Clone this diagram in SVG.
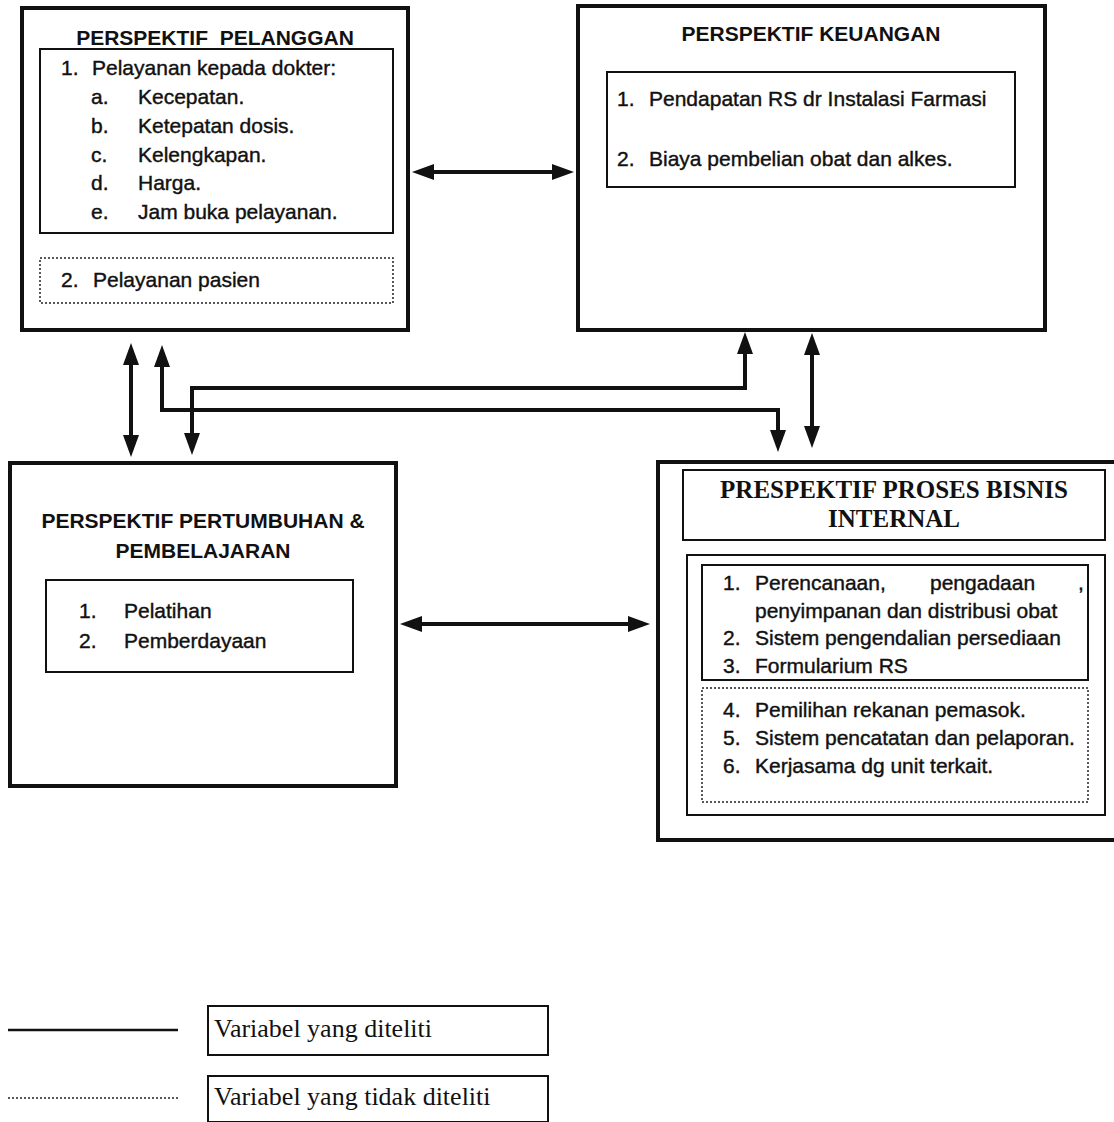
<svg xmlns="http://www.w3.org/2000/svg" width="1114" height="1122" viewBox="0 0 1114 1122">
<style>
.bg{fill:#ffffff}
.outer{fill:none;stroke:#111;stroke-width:4}
.inner{fill:none;stroke:#111;stroke-width:2}
.dot{fill:none;stroke:#222;stroke-width:1.5;stroke-dasharray:2 2}
.t{font-family:"Liberation Sans",Arial,sans-serif;font-size:21px;fill:#111;stroke:#111;stroke-width:0.4}
.h{font-family:"Liberation Sans",Arial,sans-serif;font-size:21px;font-weight:bold;fill:#111;white-space:pre}
.s{font-family:"Liberation Serif","Times New Roman",serif;fill:#111}
.conn{fill:none;stroke:#111;stroke-width:4}
</style>
<defs>
<marker id="ah" markerUnits="userSpaceOnUse" markerWidth="22" markerHeight="16" viewBox="0 0 22 16" refX="15" refY="8" orient="auto-start-reverse">
<path d="M0,0 L22,8 L0,16 z" fill="#111"/>
</marker>
</defs>
<rect class="bg" x="0" y="0" width="1114" height="1122"/>

<g id="pelanggan">
<rect class="outer" x="22" y="8" width="386" height="322"/>
<text class="h" x="215" y="45" text-anchor="middle" xml:space="preserve">PERSPEKTIF  PELANGGAN</text>
<rect class="inner" x="40" y="49" width="353" height="184"/>
<text class="t" x="61" y="75">1.</text>
<text class="t" x="92" y="75">Pelayanan kepada dokter:</text>
<text class="t" x="91" y="104">a.</text><text class="t" x="138" y="104">Kecepatan.</text>
<text class="t" x="91" y="133">b.</text><text class="t" x="138" y="133">Ketepatan dosis.</text>
<text class="t" x="91" y="162">c.</text><text class="t" x="138" y="162">Kelengkapan.</text>
<text class="t" x="91" y="190">d.</text><text class="t" x="138" y="190">Harga.</text>
<text class="t" x="91" y="219">e.</text><text class="t" x="138" y="219">Jam buka pelayanan.</text>
<rect class="dot" x="40" y="258" width="353" height="45"/>
<text class="t" x="61" y="287">2.</text>
<text class="t" x="93" y="287">Pelayanan pasien</text>
</g>

<g id="keuangan">
<rect class="outer" x="578" y="6" width="467" height="324"/>
<text class="h" x="811" y="41" text-anchor="middle">PERSPEKTIF KEUANGAN</text>
<rect class="inner" x="607" y="72" width="408" height="115"/>
<text class="t" x="617" y="106">1.</text>
<text class="t" x="649" y="106">Pendapatan RS dr Instalasi Farmasi</text>
<text class="t" x="617" y="166">2.</text>
<text class="t" x="649" y="166">Biaya pembelian obat dan alkes.</text>
</g>

<g id="pertumbuhan">
<rect class="outer" x="10" y="463" width="386" height="323"/>
<text class="h" x="203" y="528" text-anchor="middle">PERSPEKTIF PERTUMBUHAN &amp;</text>
<text class="h" x="203" y="558" text-anchor="middle">PEMBELAJARAN</text>
<rect class="inner" x="46" y="580" width="307" height="92"/>
<text class="t" x="79" y="618">1.</text><text class="t" x="124" y="618">Pelatihan</text>
<text class="t" x="79" y="648">2.</text><text class="t" x="124" y="648">Pemberdayaan</text>
</g>

<g id="proses-bisnis">
<rect class="outer" x="658" y="462" width="470" height="378"/>
<rect class="inner" x="683" y="470" width="422" height="70"/>
<text class="s" x="894" y="498" font-size="25" font-weight="bold" text-anchor="middle">PRESPEKTIF PROSES BISNIS</text>
<text class="s" x="894" y="527" font-size="25" font-weight="bold" text-anchor="middle">INTERNAL</text>
<rect class="inner" x="687" y="555" width="418" height="260"/>
<rect class="inner" x="702" y="565" width="386" height="115"/>
<text class="t" x="723" y="590">1.</text>
<text class="t" y="590"><tspan x="755">Perencanaan,</tspan><tspan x="930">pengadaan</tspan><tspan x="1078">,</tspan></text>
<text class="t" x="755" y="618">penyimpanan dan distribusi obat</text>
<text class="t" x="723" y="645">2.</text><text class="t" x="755" y="645">Sistem pengendalian persediaan</text>
<text class="t" x="723" y="673">3.</text><text class="t" x="755" y="673">Formularium RS</text>
<rect class="dot" x="702" y="688" width="386" height="114"/>
<text class="t" x="723" y="717">4.</text><text class="t" x="755" y="717">Pemilihan rekanan pemasok.</text>
<text class="t" x="723" y="745">5.</text><text class="t" x="755" y="745">Sistem pencatatan dan pelaporan.</text>
<text class="t" x="723" y="773">6.</text><text class="t" x="755" y="773">Kerjasama dg unit terkait.</text>
</g>

<g id="connectors">
<path class="conn" d="M419,172 L567,172" marker-start="url(#ah)" marker-end="url(#ah)"/>
<path class="conn" d="M407,624 L643,624" marker-start="url(#ah)" marker-end="url(#ah)"/>
<path class="conn" d="M131,350 L131,450" marker-start="url(#ah)" marker-end="url(#ah)"/>
<path class="conn" d="M162,352 L162,410 L778,410 L778,445" marker-start="url(#ah)" marker-end="url(#ah)"/>
<path class="conn" d="M192,448 L192,388 L745,388 L745,339" marker-start="url(#ah)" marker-end="url(#ah)"/>
<path class="conn" d="M812,340 L812,441" marker-start="url(#ah)" marker-end="url(#ah)"/>
</g>

<g id="legend">
<line x1="8" y1="1030" x2="178" y2="1030" stroke="#111" stroke-width="2.5"/>
<line x1="8" y1="1098" x2="178" y2="1098" stroke="#222" stroke-width="1.5" stroke-dasharray="2 2"/>
<rect class="inner" x="208" y="1006" width="340" height="49"/>
<text class="s" x="214" y="1037" font-size="26">Variabel yang diteliti</text>
<rect class="inner" x="208" y="1076" width="340" height="46"/>
<text class="s" x="214" y="1105" font-size="26">Variabel yang tidak diteliti</text>
</g>
</svg>
